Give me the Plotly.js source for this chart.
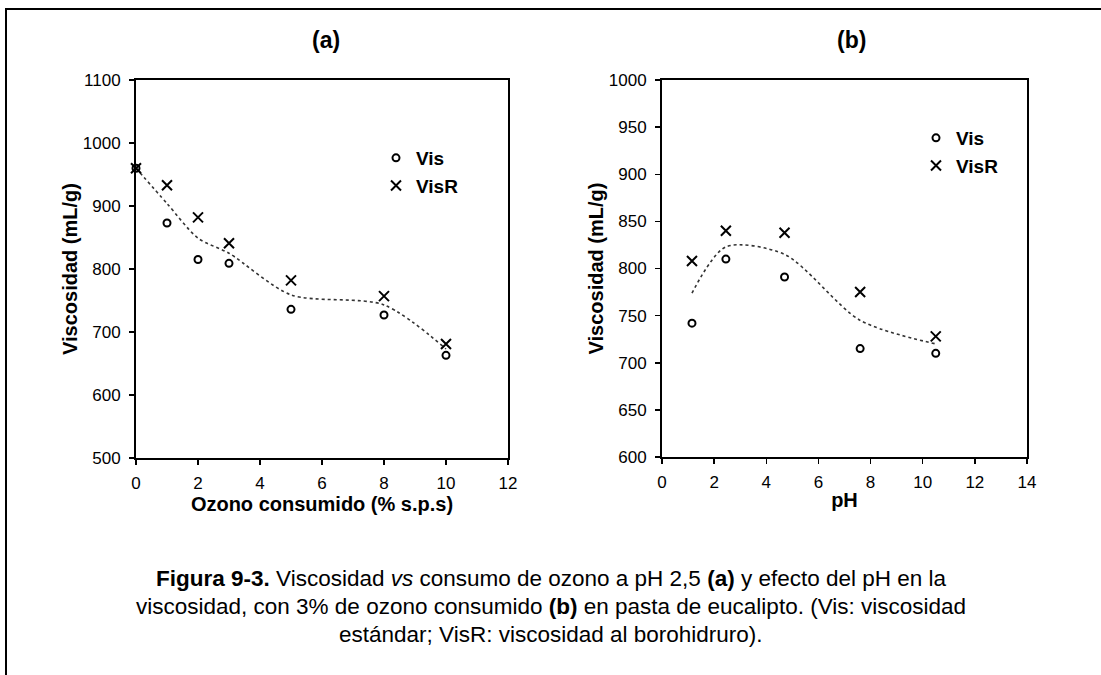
<!DOCTYPE html>
<html><head><meta charset="utf-8">
<script src="https://cdn.plot.ly/plotly-3.0.1.min.js"></script>
<style>html,body{margin:0;padding:0;background:#fff}#chart{width:1101px;height:675px}</style>
</head><body><div id="chart"></div>
<script>
// Panel (a): viscosity vs ozone consumed (pH 2,5)
const ozono = [0, 1, 2, 3, 5, 8, 10];
const visA = [960, 873, 815, 809, 736, 727, 663];
const visRA = [960, 933, 882, 841, 782, 757, 681];
const trendA = [960, 904, 849, 825, 759, 743, 673];

// Panel (b): viscosity vs pH (3% ozone consumed)
const pH = [1.15, 2.45, 4.7, 7.6, 10.5];
const visB = [742, 810, 791, 715, 710];
const visRB = [808, 840, 838, 775, 728];
const trendB = [774, 823, 815, 745, 720];

const seriesNames = ['Vis', 'VisR'];
const panelTitles = ['(a)', '(b)'];
const xTitles = ['Ozono consumido (% s.p.s)', 'pH'];
const yTitle = 'Viscosidad (mL/g)';
const captionLines = [
  '<b>Figura 9-3.</b> Viscosidad <i>vs</i> consumo de ozono a pH 2,5 <b>(a)</b> y efecto del pH en la',
  'viscosidad, con 3% de ozono consumido <b>(b)</b> en pasta de eucalipto. (Vis: viscosidad',
  'estándar; VisR: viscosidad al borohidruro).'
];

const W = 1101, H = 675;
const px = v => v / W;
const py = v => 1 - v / H;
const FONT = 'Arial, "Liberation Sans", sans-serif';

const trendStyle = {shape: 'spline', smoothing: 0.8, dash: 'dot', color: '#333', width: 1.6};
const circ = {symbol: 'circle-open', size: 7, color: '#000', line: {color: '#000', width: 2}};
const cross = {symbol: 'x-thin-open', size: 10, color: '#000', line: {color: '#000', width: 2}};

const traces = [
  {x: ozono, y: trendA, mode: 'lines', line: trendStyle, showlegend: false, hoverinfo: 'skip', xaxis: 'x', yaxis: 'y'},
  {x: ozono, y: visA, name: seriesNames[0], mode: 'markers', marker: circ, cliponaxis: false, xaxis: 'x', yaxis: 'y', legend: 'legend'},
  {x: ozono, y: visRA, name: seriesNames[1], mode: 'markers', marker: cross, cliponaxis: false, xaxis: 'x', yaxis: 'y', legend: 'legend'},
  {x: pH, y: trendB, mode: 'lines', line: trendStyle, showlegend: false, hoverinfo: 'skip', xaxis: 'x2', yaxis: 'y2'},
  {x: pH, y: visB, name: seriesNames[0], mode: 'markers', marker: circ, cliponaxis: false, xaxis: 'x2', yaxis: 'y2', legend: 'legend2'},
  {x: pH, y: visRB, name: seriesNames[1], mode: 'markers', marker: cross, cliponaxis: false, xaxis: 'x2', yaxis: 'y2', legend: 'legend2'}
];

const axBase = {
  showline: true, mirror: true, linecolor: '#000', linewidth: 2,
  ticks: 'outside', ticklen: 5, tickwidth: 1.5, tickcolor: '#000',
  showgrid: false, zeroline: false, tickfont: {family: FONT, size: 17, color: '#000'}
};
const titleFont = {family: FONT, size: 20, weight: 'bold', color: '#000'};

const layout = {
  width: W, height: H,
  margin: {l: 0, r: 0, t: 0, b: 0},
  paper_bgcolor: '#fff', plot_bgcolor: '#fff',
  font: {family: FONT, color: '#000'},
  showlegend: true,
  xaxis: Object.assign({}, axBase, {
    domain: [px(136), px(508)], range: [0, 12], dtick: 2, anchor: 'y', ticklabelstandoff: 4,
    title: {text: xTitles[0], font: titleFont, standoff: 2}
  }),
  yaxis: Object.assign({}, axBase, {
    domain: [py(458), py(80)], range: [500, 1100], dtick: 100, anchor: 'x', ticklabelstandoff: 5,
    title: {text: yTitle, font: titleFont, standoff: 0}
  }),
  xaxis2: Object.assign({}, axBase, {
    domain: [px(662), px(1027)], range: [0, 14], dtick: 2, anchor: 'y2', ticklabelstandoff: 4,
    title: {text: xTitles[1], font: titleFont, standoff: 2}
  }),
  yaxis2: Object.assign({}, axBase, {
    domain: [py(457), py(80)], range: [600, 1000], dtick: 50, anchor: 'x2', ticklabelstandoff: 5,
    title: {text: yTitle, font: titleFont, standoff: 0}
  }),
  legend: {x: px(376), y: py(139), xanchor: 'left', yanchor: 'top', bgcolor: 'rgba(0,0,0,0)', borderwidth: 0,
           font: {family: FONT, size: 19, weight: 'bold', color: '#000'}, tracegroupgap: 0, itemwidth: 30},
  legend2: {x: px(916), y: py(119), xanchor: 'left', yanchor: 'top', bgcolor: 'rgba(0,0,0,0)', borderwidth: 0,
           font: {family: FONT, size: 19, weight: 'bold', color: '#000'}, tracegroupgap: 0, itemwidth: 30},
  shapes: [
    {type: 'rect', xref: 'paper', yref: 'paper', x0: px(6), x1: px(W + 20), y0: py(H + 20), y1: py(9),
     line: {color: '#000', width: 2}, fillcolor: 'rgba(0,0,0,0)', layer: 'below'}
  ],
  annotations: [
    {text: panelTitles[0], xref: 'paper', yref: 'paper', x: px(326), y: py(40), showarrow: false,
     xanchor: 'center', yanchor: 'middle', font: {family: FONT, size: 23, weight: 'bold', color: '#000'}},
    {text: panelTitles[1], xref: 'paper', yref: 'paper', x: px(851), y: py(40), showarrow: false,
     xanchor: 'center', yanchor: 'middle', font: {family: FONT, size: 23, weight: 'bold', color: '#000'}}
  ].concat(captionLines.map((t, i) => ({
    text: t, xref: 'paper', yref: 'paper', x: px(551), y: py(578 + 28 * i), showarrow: false,
    xanchor: 'center', yanchor: 'middle', font: {family: FONT, size: 22.5, color: '#000'}
  })))
};

Plotly.newPlot('chart', traces, layout, {staticPlot: true, displayModeBar: false});
</script>
</body></html>
